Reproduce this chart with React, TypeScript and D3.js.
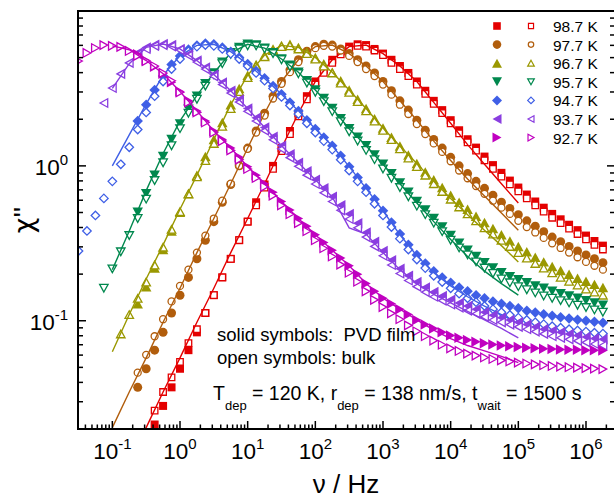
import React from "react";
import * as d3 from "d3";

const _ = null;

// log10(frequency / Hz) of the measured points
const LOG_FREQ = [-1.5, -1.375, -1.25, -1.125, -1, -0.875, -0.75, -0.625, -0.5, -0.375, -0.25, -0.125, 0, 0.125, 0.25, 0.375, 0.5, 0.625, 0.75, 0.875, 1, 1.125, 1.25, 1.375, 1.5, 1.625, 1.75, 1.875, 2, 2.125, 2.25, 2.375, 2.5, 2.625, 2.75, 2.875, 3, 3.125, 3.25, 3.375, 3.5, 3.625, 3.75, 3.875, 4, 4.125, 4.25, 4.375, 4.5, 4.625, 4.75, 4.875, 5, 5.125, 5.25, 5.375, 5.5, 5.625, 5.75, 5.875, 6, 6.125, 6.25];
// log10(frequency / Hz) of the line data
const LINE_LOG_FREQ = [-1, -0.75, -0.5, -0.25, 0, 0.25, 0.5, 0.75, 1, 1.25, 1.5, 1.75, 2, 2.25, 2.5, 2.75, 3, 3.25, 3.5, 3.75, 4, 4.25, 4.5, 4.75, 5];

const TEMPERATURES = ["98.7 K", "97.7 K", "96.7 K", "95.7 K", "94.7 K", "93.7 K", "92.7 K"];

// log10 chi'' : PVD film (solid symbols)
const FILM_987 = [_, _, _, _, _, _, _, _, _, -1.67, -1.55, -1.43, -1.31, -1.19, -1.075, -0.95, -0.835, -0.72, -0.6, -0.48, -0.36, -0.235, -0.12, 0, 0.115, 0.225, 0.34, 0.45, 0.545, 0.62, 0.685, 0.74, 0.77, 0.785, 0.78, 0.755, 0.725, 0.685, 0.645, 0.6, 0.545, 0.485, 0.42, 0.36, 0.295, 0.23, 0.172, 0.118, 0.06, 0.005, -0.045, -0.095, -0.14, -0.185, -0.23, -0.27, -0.31, -0.345, -0.38, -0.415, -0.45, -0.485, -0.515];
const FILM_977 = [_, _, _, _, _, _, _, -1.43, -1.31, -1.19, -1.075, -0.95, -0.835, -0.72, -0.6, -0.48, -0.36, -0.235, -0.12, 0, 0.115, 0.225, 0.34, 0.45, 0.545, 0.62, 0.685, 0.74, 0.77, 0.785, 0.78, 0.755, 0.725, 0.685, 0.645, 0.6, 0.545, 0.485, 0.42, 0.36, 0.295, 0.23, 0.17, 0.115, 0.055, 0, -0.05, -0.1, -0.145, -0.19, -0.235, -0.275, -0.315, -0.355, -0.39, -0.425, -0.46, -0.49, -0.52, -0.55, -0.575, -0.6, -0.625];
const FILM_967 = [_, _, _, _, _, _, _, -0.89, -0.78, -0.66, -0.54, -0.42, -0.3, -0.18, -0.06, 0.06, 0.17, 0.28, 0.395, 0.5, 0.585, 0.655, 0.715, 0.755, 0.778, 0.785, 0.765, 0.735, 0.7, 0.66, 0.605, 0.55, 0.49, 0.43, 0.37, 0.305, 0.245, 0.185, 0.128, 0.07, 0.015, -0.04, -0.09, -0.14, -0.19, -0.235, -0.28, -0.325, -0.365, -0.405, -0.445, -0.485, -0.52, -0.555, -0.59, -0.62, -0.65, -0.675, -0.7, -0.725, -0.745, -0.765, -0.785];
const FILM_957 = [_, _, _, _, _, _, _, -0.3, -0.18, -0.06, 0.06, 0.17, 0.27, 0.365, 0.45, 0.53, 0.6, 0.67, 0.73, 0.765, 0.785, 0.78, 0.76, 0.73, 0.69, 0.65, 0.605, 0.55, 0.49, 0.435, 0.37, 0.305, 0.24, 0.185, 0.13, 0.07, 0.01, -0.05, -0.11, -0.17, -0.23, -0.285, -0.34, -0.395, -0.45, -0.5, -0.545, -0.585, -0.625, -0.66, -0.69, -0.715, -0.735, -0.755, -0.775, -0.79, -0.81, -0.825, -0.84, -0.855, -0.87, -0.885, -0.9];
const FILM_947 = [_, _, _, _, _, _, _, 0.29, 0.395, 0.49, 0.58, 0.655, 0.71, 0.752, 0.778, 0.79, 0.785, 0.765, 0.737, 0.7, 0.657, 0.612, 0.565, 0.515, 0.463, 0.41, 0.355, 0.295, 0.238, 0.183, 0.13, 0.065, -0.005, -0.075, -0.145, -0.215, -0.29, -0.365, -0.44, -0.51, -0.575, -0.63, -0.68, -0.72, -0.755, -0.785, -0.81, -0.835, -0.855, -0.875, -0.89, -0.905, -0.92, -0.935, -0.947, -0.958, -0.968, -0.977, -0.985, -0.993, -1, -1.007, -1.013];
const FILM_937 = [_, _, _, _, _, _, _, 0.73, 0.765, 0.782, 0.787, 0.78, 0.755, 0.72, 0.68, 0.635, 0.59, 0.538, 0.485, 0.428, 0.37, 0.31, 0.248, 0.188, 0.13, 0.075, 0.02, -0.035, -0.09, -0.145, -0.2, -0.255, -0.31, -0.37, -0.43, -0.49, -0.55, -0.61, -0.665, -0.71, -0.75, -0.785, -0.815, -0.84, -0.865, -0.885, -0.905, -0.925, -0.945, -0.965, -0.98, -0.995, -1.01, -1.025, -1.04, -1.055, -1.065, -1.075, -1.085, -1.095, -1.105, -1.115, -1.12];
const FILM_927 = [_, _, _, _, _, _, _, 0.72, 0.68, 0.64, 0.595, 0.54, 0.48, 0.42, 0.355, 0.29, 0.225, 0.17, 0.115, 0.055, -0.005, -0.06, -0.115, -0.17, -0.23, -0.285, -0.34, -0.39, -0.445, -0.495, -0.545, -0.595, -0.645, -0.7, -0.76, -0.81, -0.855, -0.89, -0.925, -0.96, -0.995, -1.025, -1.05, -1.075, -1.095, -1.11, -1.125, -1.135, -1.145, -1.153, -1.16, -1.165, -1.17, -1.174, -1.178, -1.18, -1.183, -1.185, -1.187, -1.188, -1.19, -1.191, -1.192];

// log10 chi'' : bulk (open symbols)
const BULK_987 = [_, _, _, _, _, _, _, _, _, -1.58, -1.46, -1.365, -1.265, -1.145, -1.055, -0.95, -0.835, -0.72, -0.6, -0.48, -0.36, -0.255, -0.14, -0.02, 0.095, 0.205, 0.32, 0.43, 0.525, 0.6, 0.665, 0.72, 0.755, 0.775, 0.77, 0.745, 0.715, 0.665, 0.625, 0.58, 0.525, 0.465, 0.4, 0.34, 0.275, 0.21, 0.152, 0.098, 0.035, -0.02, -0.07, -0.12, -0.165, -0.21, -0.255, -0.295, -0.335, -0.37, -0.405, -0.44, -0.475, -0.51, -0.54];
const BULK_977 = [_, _, _, _, _, _, _, -1.335, -1.22, -1.1, -0.99, -0.875, -0.775, -0.67, -0.56, -0.45, -0.34, -0.225, -0.115, 0, 0.11, 0.215, 0.325, 0.435, 0.53, 0.605, 0.67, 0.725, 0.76, 0.775, 0.77, 0.745, 0.71, 0.67, 0.625, 0.58, 0.525, 0.46, 0.395, 0.335, 0.27, 0.205, 0.145, 0.09, 0.03, -0.03, -0.08, -0.13, -0.18, -0.225, -0.27, -0.31, -0.355, -0.395, -0.43, -0.465, -0.5, -0.53, -0.56, -0.59, -0.62, -0.645, -0.67];
const BULK_967 = [_, _, _, _, _, -1.085, -0.96, -0.855, -0.75, -0.64, -0.525, -0.41, -0.295, -0.18, -0.07, 0.035, 0.145, 0.255, 0.37, 0.48, 0.57, 0.645, 0.705, 0.745, 0.77, 0.775, 0.755, 0.725, 0.69, 0.645, 0.6, 0.535, 0.475, 0.415, 0.355, 0.29, 0.23, 0.17, 0.11, 0.05, -0.005, -0.06, -0.115, -0.165, -0.215, -0.265, -0.31, -0.355, -0.4, -0.44, -0.48, -0.52, -0.56, -0.595, -0.63, -0.66, -0.69, -0.72, -0.745, -0.77, -0.795, -0.815, -0.835];
const BULK_957 = [_, _, _, -0.79, -0.665, -0.555, -0.45, -0.34, -0.215, -0.095, 0.02, 0.13, 0.24, 0.34, 0.43, 0.515, 0.59, 0.66, 0.72, 0.755, 0.775, 0.775, 0.755, 0.725, 0.685, 0.64, 0.595, 0.535, 0.475, 0.415, 0.35, 0.285, 0.22, 0.16, 0.1, 0.04, -0.02, -0.08, -0.14, -0.2, -0.26, -0.315, -0.37, -0.425, -0.48, -0.53, -0.575, -0.62, -0.66, -0.695, -0.73, -0.755, -0.78, -0.8, -0.82, -0.84, -0.855, -0.87, -0.885, -0.9, -0.915, -0.93, -0.945];
const BULK_947 = [-0.55, -0.42, -0.32, -0.21, -0.1, 0.01, 0.12, 0.235, 0.345, 0.45, 0.545, 0.625, 0.69, 0.74, 0.77, 0.78, 0.775, 0.755, 0.725, 0.69, 0.645, 0.6, 0.55, 0.5, 0.445, 0.39, 0.335, 0.275, 0.215, 0.16, 0.105, 0.04, -0.03, -0.1, -0.17, -0.245, -0.32, -0.395, -0.47, -0.54, -0.605, -0.66, -0.71, -0.75, -0.79, -0.825, -0.855, -0.88, -0.905, -0.925, -0.945, -0.963, -0.98, -0.995, -1.01, -1.022, -1.035, -1.045, -1.055, -1.063, -1.07, -1.077, -1.083];
const BULK_937 = [_, _, _, 0.406, 0.503, 0.594, 0.665, 0.72, 0.755, 0.775, 0.78, 0.772, 0.748, 0.712, 0.67, 0.625, 0.578, 0.525, 0.47, 0.412, 0.352, 0.29, 0.228, 0.168, 0.11, 0.053, -0.003, -0.06, -0.117, -0.174, -0.23, -0.287, -0.343, -0.4, -0.46, -0.52, -0.58, -0.64, -0.695, -0.74, -0.78, -0.815, -0.845, -0.87, -0.895, -0.915, -0.935, -0.955, -0.975, -0.995, -1.01, -1.025, -1.04, -1.055, -1.07, -1.085, -1.1, -1.11, -1.12, -1.13, -1.14, -1.15, -1.16];
const BULK_927 = [0.677, 0.729, 0.761, 0.78, 0.775, 0.768, 0.742, 0.71, 0.677, 0.645, 0.6, 0.55, 0.475, 0.41, 0.345, 0.28, 0.215, 0.16, 0.1, 0.04, -0.02, -0.078, -0.135, -0.192, -0.255, -0.312, -0.37, -0.422, -0.48, -0.532, -0.585, -0.638, -0.69, -0.748, -0.81, -0.865, -0.912, -0.952, -0.99, -1.03, -1.068, -1.1, -1.128, -1.155, -1.178, -1.195, -1.212, -1.225, -1.237, -1.247, -1.256, -1.263, -1.27, -1.276, -1.282, -1.287, -1.292, -1.296, -1.3, -1.303, -1.306, -1.309, -1.312];

// log10 chi'' : lines
const LINE_987 = [-2.14, -1.91, -1.69, -1.46, -1.24, -1.01, -0.79, -0.56, -0.34, -0.115, 0.115, 0.34, 0.545, 0.685, 0.77, 0.78, 0.725, 0.645, 0.545, 0.41, 0.275, 0.137, 0.01, -0.115, -0.24];
const LINE_977 = [-1.69, -1.46, -1.24, -1.01, -0.79, -0.56, -0.34, -0.115, 0.115, 0.34, 0.545, 0.685, 0.77, 0.78, 0.725, 0.645, 0.545, 0.42, 0.295, 0.16, 0.035, -0.085, -0.195, -0.305, -0.415];
const LINE_967 = [-1.2, -0.96, -0.73, -0.51, -0.28, -0.06, 0.17, 0.395, 0.585, 0.715, 0.778, 0.765, 0.7, 0.605, 0.49, 0.37, 0.245, 0.128, 0.015, -0.1, -0.21, -0.315, -0.415, -0.515, -0.62];
const LINE_957 = [-0.67, -0.42, -0.16, 0.08, 0.29, 0.455, 0.6, 0.73, 0.785, 0.76, 0.69, 0.605, 0.49, 0.37, 0.24, 0.13, 0.01, -0.115, -0.24, -0.36, -0.475, -0.585, -0.68, -0.76, -0.835];
const LINE_947 = [0, 0.2, 0.4, 0.585, 0.71, 0.778, 0.785, 0.737, 0.657, 0.565, 0.463, 0.355, 0.238, 0.13, -0.005, -0.145, -0.29, -0.445, -0.58, -0.69, -0.775, -0.845, -0.905, -0.96, -1.02];
const LINE_937 = [0.5, 0.66, 0.765, 0.787, 0.755, 0.68, 0.59, 0.485, 0.37, 0.248, 0.13, 0.02, -0.09, -0.2, -0.4, -0.44, -0.56, -0.67, -0.76, -0.83, -0.885, -0.94, -0.995, -1.05, -1.11];
const LINE_927 = [0.775, 0.75, 0.68, 0.595, 0.48, 0.355, 0.225, 0.115, -0.005, -0.115, -0.23, -0.34, -0.445, -0.545, -0.645, -0.76, -0.855, -0.925, -0.995, -1.06, -1.115, -1.16, -1.195, -1.23, -1.27];

const FILM = [FILM_987, FILM_977, FILM_967, FILM_957, FILM_947, FILM_937, FILM_927];
const BULK = [BULK_987, BULK_977, BULK_967, BULK_957, BULK_947, BULK_937, BULK_927];
const LINES = [LINE_987, LINE_977, LINE_967, LINE_957, LINE_947, LINE_937, LINE_927];

const X_TICK_EXPONENTS = [-1, 0, 1, 2, 3, 4, 5, 6];
const Y_TICK_EXPONENTS = [-1, 0];

// styles
const COLORS = ["#e40000", "#b15d0c", "#9a9800", "#00884e", "#3f5fe6", "#8a3ee0", "#c000c0"];
const SHAPES = ["square", "circle", "triUp", "triDown", "diamond", "triLeft", "triRight"];
const SOLID_SIZE: Record<string, number> = { square: 8, circle: 9, triUp: 10.5, triDown: 10.5, diamond: 10.5, triLeft: 10.5, triRight: 10.5 };
const OPEN_SIZE: Record<string, number> = { square: 6.5, circle: 7, triUp: 8.5, triDown: 8.5, diamond: 8.5, triLeft: 8.5, triRight: 8.5 };
const FONT = "'Liberation Sans', Arial, Helvetica, sans-serif";

const W = 614, H = 498;
const PL = 78, PR = 615, PT = 11, PB = 429;

function shapePath(shape: string, s: number): string {
  const h = s / 2;
  const t = (s * 0.9) / 2;
  switch (shape) {
    case "square":
      return `M${-h},${-h}H${h}V${h}H${-h}Z`;
    case "circle":
      return `M${h},0A${h},${h},0,1,1,${-h},0A${h},${h},0,1,1,${h},0Z`;
    case "triUp":
      return `M0,${-t}L${h},${t}L${-h},${t}Z`;
    case "triDown":
      return `M0,${t}L${h},${-t}L${-h},${-t}Z`;
    case "triLeft":
      return `M${-t},0L${t},${-h}L${t},${h}Z`;
    case "triRight":
      return `M${t},0L${-t},${-h}L${-t},${h}Z`;
    case "diamond":
      return `M0,${-h}L${h},0L0,${h}L${-h},0Z`;
    default:
      return "";
  }
}

export default function App() {
  const x = d3.scaleLog().domain([Math.pow(10, -1.5074), Math.pow(10, 6.4286)]).range([PL, PR]);
  const y = d3.scaleLog().domain([0.02, 10]).range([PB, PT]);

  const xMinor: number[] = [];
  for (let e = -2; e <= 6; e++) for (let m = 2; m <= 9; m++) {
    const v = m * Math.pow(10, e);
    if (v > x.domain()[0] && v < x.domain()[1]) xMinor.push(v);
  }
  const yMinor: number[] = [];
  for (let e = -2; e <= 0; e++) for (let m = 2; m <= 9; m++) {
    const v = m * Math.pow(10, e);
    if (v > 0.0201 && v < 9.99) yMinor.push(v);
  }

  const lineGen = d3.line<[number, number]>().x((d) => x(Math.pow(10, d[0]))).y((d) => y(Math.pow(10, d[1])));

  const points = (arr: (number | null)[]) =>
    arr.map((v, i) => (v === null ? null : [x(Math.pow(10, LOG_FREQ[i])), y(Math.pow(10, v))])).filter((p) => p !== null) as number[][];

  const rowY = (i: number) => 26 + i * 18.6;

  return (
    <svg width={W} height={H} style={{ position: "absolute", left: 0, top: 0, background: "#fff" }} fontFamily={FONT}>
      <defs>
        <clipPath id="plotclip">
          <rect x={PL} y={PT} width={PR - PL} height={PB - PT} />
        </clipPath>
      </defs>
      <rect x={0} y={0} width={W} height={H} fill="#fff" />

      <g clipPath="url(#plotclip)">
        {TEMPERATURES.map((t, i) => {
          const shape = SHAPES[i];
          const color = COLORS[i];
          const ds = shapePath(shape, SOLID_SIZE[shape]);
          const dop = shapePath(shape, OPEN_SIZE[shape]);
          const linePts = LINES[i].map((v, j) => [LINE_LOG_FREQ[j], v] as [number, number]);
          return (
            <g key={t}>
              {points(FILM[i]).map((p, j) => (
                <path key={"s" + j} d={ds} transform={`translate(${p[0]},${p[1]})`} fill={color} />
              ))}
              {points(BULK[i]).map((p, j) => (
                <path key={"o" + j} d={dop} transform={`translate(${p[0]},${p[1]})`} fill="#fff" stroke={color} strokeWidth={1.3} />
              ))}
              <path d={lineGen(linePts) || ""} fill="none" stroke={color} strokeWidth={1.4} />
            </g>
          );
        })}
      </g>

      {/* frame */}
      <g stroke="#000" fill="none">
        <line x1={PL} y1={PT} x2={PL} y2={PB} strokeWidth={2} />
        <line x1={PL - 1} y1={PB} x2={PR} y2={PB} strokeWidth={2} />
        <line x1={PL - 1} y1={PT} x2={PR} y2={PT} strokeWidth={2} />
        <line x1={PR} y1={PT} x2={PR} y2={PB} strokeWidth={2} />
        {X_TICK_EXPONENTS.map((e) => {
          const xx = x(Math.pow(10, e));
          return <line key={"xM" + e} x1={xx} x2={xx} y1={PB} y2={PB - 8} strokeWidth={1.5} />;
        })}
        {xMinor.map((v) => {
          const xx = x(v);
          return <line key={"xm" + v} x1={xx} x2={xx} y1={PB} y2={PB - 4.5} strokeWidth={1.5} />;
        })}
        {Y_TICK_EXPONENTS.map((e) => {
          const yy = y(Math.pow(10, e));
          return (
            <g key={"yM" + e}>
              <line x1={PL} x2={PL + 8} y1={yy} y2={yy} strokeWidth={1.5} />
              <line x1={PR} x2={PR - 8} y1={yy} y2={yy} strokeWidth={1.5} />
            </g>
          );
        })}
        {yMinor.map((v) => {
          const yy = y(v);
          return (
            <g key={"ym" + v}>
              <line x1={PL} x2={PL + 5} y1={yy} y2={yy} strokeWidth={1.5} />
              <line x1={PR} x2={PR - 5} y1={yy} y2={yy} strokeWidth={1.5} />
            </g>
          );
        })}
      </g>

      {/* tick labels */}
      {X_TICK_EXPONENTS.map((e) => (
        <text key={"xl" + e} x={x(Math.pow(10, e))} y={459} fontSize={22.5} textAnchor="middle" fill="#000">
          10<tspan fontSize={15} dy={-10}>{String(e)}</tspan>
        </text>
      ))}
      {Y_TICK_EXPONENTS.map((e) => (
        <text key={"yl" + e} x={68} y={y(Math.pow(10, e)) + 9} fontSize={22.5} textAnchor="end" fill="#000">
          10<tspan fontSize={15} dy={-10}>{String(e)}</tspan>
        </text>
      ))}

      {/* axis titles */}
      <text x={346} y={493} fontSize={26} textAnchor="middle" fill="#000">ν / Hz</text>
      <text transform="translate(33,220) rotate(-90)" fontSize={28} textAnchor="middle" fill="#000">
        <tspan fontFamily="'DejaVu Sans', sans-serif" fontSize={27}>χ</tspan><tspan fontFamily={FONT}>''</tspan>
      </text>

      {/* legend */}
      {TEMPERATURES.map((t, i) => {
        const shape = SHAPES[i];
        const color = COLORS[i];
        const yy = rowY(i);
        return (
          <g key={"lg" + t}>
            <path d={shapePath(shape, SOLID_SIZE[shape] * 0.95)} transform={`translate(497,${yy})`} fill={color} />
            <path d={shapePath(shape, OPEN_SIZE[shape] * 0.78)} transform={`translate(531,${yy})`} fill="#fff" stroke={color} strokeWidth={1.2} />
            <text x={553} y={yy + 6} fontSize={15.5} fill="#000">{t}</text>
          </g>
        );
      })}

      {/* annotations */}
      <text x={217} y={341} fontSize={18.5} fill="#000" xmlSpace="preserve" style={{ whiteSpace: "pre" }}>solid symbols:  PVD film</text>
      <text x={217} y={364} fontSize={18.5} fill="#000" xmlSpace="preserve" style={{ whiteSpace: "pre" }}>open symbols: bulk</text>
      <text x={213} y={400} fontSize={19.5} fill="#000" xmlSpace="preserve" style={{ whiteSpace: "pre" }}>
        T<tspan fontSize={13} dy={10}>dep</tspan><tspan dy={-10}> = 120 K, r</tspan><tspan fontSize={13} dy={10}>dep</tspan><tspan dy={-10}> = 138 nm/s, t</tspan><tspan fontSize={13} dy={10}>wait</tspan><tspan dy={-10}> = 1500 s</tspan>
      </text>
    </svg>
  );
}
